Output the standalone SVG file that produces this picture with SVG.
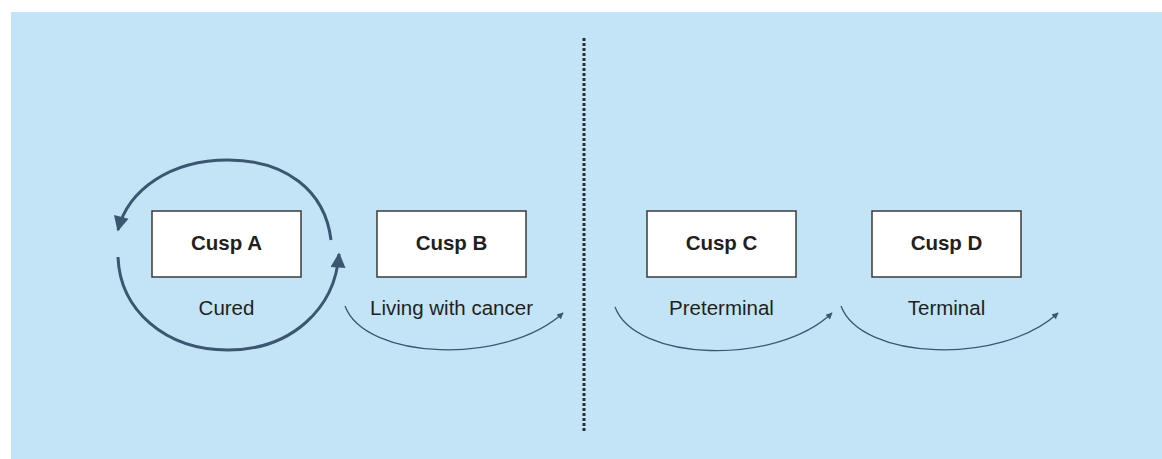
<svg xmlns="http://www.w3.org/2000/svg" width="1162" height="459" viewBox="0 0 1162 459">
<style>
.box{fill:#ffffff;stroke:#3a3a3a;stroke-width:1.5}
.lbl{font-family:"Liberation Sans",Arial,sans-serif;font-size:20.5px;font-weight:bold;fill:#231f20;text-anchor:middle}
.cap{font-family:"Liberation Sans",Arial,sans-serif;font-size:20.5px;fill:#231f20;text-anchor:middle}
.thick{fill:none;stroke:#3b5670;stroke-width:3}
.thin{fill:none;stroke:#3b5670;stroke-width:1.3}
</style>
<defs>
<marker id="bigArrow" viewBox="0 0 10 10" refX="9" refY="5" markerWidth="6" markerHeight="5" markerUnits="strokeWidth" orient="auto">
<path d="M0,0 L10,5 L0,10 Z" fill="#3b5670"/>
</marker>
<marker id="smallArrow" viewBox="0 0 10 10" refX="9" refY="5" markerWidth="8" markerHeight="5" markerUnits="strokeWidth" orient="auto">
<path d="M0,0 L10,5 L0,10 Z" fill="#3b5670"/>
</marker>
</defs>
<rect x="11" y="12" width="1151" height="447" fill="#c2e4f6"/>
<line x1="584" y1="38" x2="584" y2="432" stroke="#2e2e2e" stroke-width="3" stroke-dasharray="3 2"/>
<g id="connectors">
<path class="thick" d="M331,240 C325,190 285,160 228,160 C170,160 128,190 118,230" marker-end="url(#bigArrow)"/>
<path class="thick" d="M118,257 C120,310 165,350 228,350 C290,350 335,310 339,254" marker-end="url(#bigArrow)"/>
<path class="thin" d="M345,306 C365,360 505,366 563,313" marker-end="url(#smallArrow)"/>
<path class="thin" d="M615,307 C635,361 775,367 832,313" marker-end="url(#smallArrow)"/>
<path class="thin" d="M841,306 C861,360 1001,366 1058,313" marker-end="url(#smallArrow)"/>
</g>
<g id="cuspA">
<rect class="box" x="152" y="211" width="149" height="66"/>
<text class="lbl" x="226.5" y="250">Cusp A</text>
<text class="cap" x="226.5" y="315">Cured</text>
</g>
<g id="cuspB">
<rect class="box" x="377" y="211" width="149" height="66"/>
<text class="lbl" x="451.5" y="250">Cusp B</text>
<text class="cap" x="451.5" y="315">Living with cancer</text>
</g>
<g id="cuspC">
<rect class="box" x="647" y="211" width="149" height="66"/>
<text class="lbl" x="721.5" y="250">Cusp C</text>
<text class="cap" x="721.5" y="315">Preterminal</text>
</g>
<g id="cuspD">
<rect class="box" x="872" y="211" width="149" height="66"/>
<text class="lbl" x="946.5" y="250">Cusp D</text>
<text class="cap" x="946.5" y="315">Terminal</text>
</g>
</svg>
